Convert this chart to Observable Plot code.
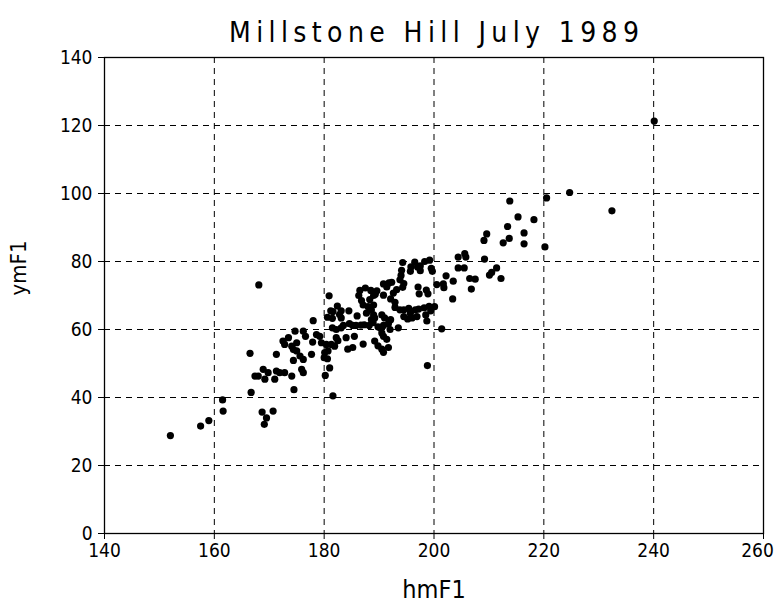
<!DOCTYPE html>
<html>
<head>
<meta charset="utf-8">
<script src="https://cdn.jsdelivr.net/npm/d3@7"></script>
<script src="https://cdn.jsdelivr.net/npm/@observablehq/plot@0.6"></script>
<style>
  html, body { margin: 0; padding: 0; background: #fff; }
  #chart { width: 778px; height: 612px; }
</style>
</head>
<body>
<div id="chart"></div>
<script>
const title = "Millstone Hill July 1989";
const xLabel = "hmF1";
const yLabel = "ymF1";
const xTicks = [140, 160, 180, 200, 220, 240, 260];
const yTicks = [0, 20, 40, 60, 80, 100, 120, 140];
const xGrid = [160, 180, 200, 220, 240];
const yGrid = [20, 40, 60, 80, 100, 120];

// hmF1 (x) and ymF1 (y)
const hmF1 = [
  152, 157.5, 159, 161.5, 161.6, 168.1, 168.7, 169.5, 169.1, 170.7, 166.7, 174.5, 181.6, 166.5,
  167.4, 168, 168.9, 169.2, 169.8, 171, 171.3, 171.9, 172.8, 174.1, 175.9, 176.2, 174.4, 176.2, 175.6, 171.3,
  172.5, 172.8, 173.5, 174.1, 174.4, 175, 175, 174.7, 176.2, 178, 178.6, 179.2, 179.5, 180.4, 181.3, 181.9,
  180.1, 180.7, 181, 180.2, 180.9, 181.2, 181.6, 182.4, 182.8, 177.7, 180, 180.6, 176.6, 177.9,
  183.1, 180.6, 181.5, 184.5, 186, 181.5, 182.2, 183.1, 183.5, 183.1,
  184.6, 185.2, 185.8, 186.7, 187.3, 188.2, 188.9, 189.8, 190.8, 191.7,
  187.7, 189, 189.2, 188.6, 190.5, 191, 192.1, 192, 190.2, 190.5, 190.8, 191.4,
  192.9, 193.8, 194.5, 195.4, 195.7, 196.6, 197.2, 198.2, 199.1, 199.4, 200.1,
  194.5, 195.2, 196, 196.9, 198.7, 198.5, 193.5, 185.5, 184, 185.2, 184.3, 182.2, 182.5, 187.1,
  189.2, 189.8, 190.5, 190.8, 191.7, 198.8,
  194.3, 196.5, 197.5, 198.3, 199.2, 199.5, 195.8, 197, 194.1, 195.7, 197.5, 199.7,
  194, 193.8, 192.3, 191.8, 191.4, 190.8, 189.6, 189.3, 194.5, 194.3, 193.2, 192.6, 190.8, 192.1, 192.9,
  186.5, 187.5, 188.5, 189, 186.3, 186.8, 188.3, 187.1, 188, 189, 188.6,
  197.1, 197.3, 198.6, 198.9,
  200.5, 201.7, 201.8, 202.2, 203.5, 206.5, 207.5, 206.8, 203.4, 204.4, 205.5, 204.4, 205.6, 205.8, 209.2, 201.4,
  240.1, 224.7, 220.5, 232.4, 213.8, 215.3, 218.2, 213.4, 209.6, 216.4, 213.7, 212.6, 216.4, 220.2, 209.1,
  211.4, 210.5, 210.1, 212.2
];
const ymF1 = [
  28.8, 31.6, 33.2, 39.3, 36, 73.1, 35.7, 34, 32.1, 36, 41.5, 42.3, 40.5, 53,
  46.3, 46.3, 48.3, 45.4, 47.3, 45.4, 47.8, 47.3, 47.3, 46.3, 48.3, 47.3, 50.9, 51.2, 52.2, 52.7,
  56.6, 55.6, 57.6, 55.1, 54.1, 53.7, 56.1, 59.5, 59.5, 62.6, 58.5, 58, 56.1, 55.6, 55.6, 55.1,
  53.2, 53.7, 48.7, 46.5, 69.9, 65.5, 65.3, 66.9, 64.4, 52.7, 51.7, 51.4, 58, 56.3,
  65.5, 63.6, 63.3, 65.5, 64, 60.5, 60, 60.5, 61.2, 63.4,
  61.7, 61.2, 61.2, 61.3, 61.4, 61.2, 62, 60.8, 61.2, 61.7,
  64.8, 64.3, 63.4, 62.9, 64.3, 63.4, 62.9, 60, 60.5, 59, 58, 57.1,
  66.5, 65.8, 65.8, 66.2, 64.8, 65.8, 66, 66.4, 66.8, 65.5, 66.7,
  63.8, 63.1, 63.4, 63.8, 62.5, 64.3, 60.5, 58, 57.6, 54.7, 54.2, 57.6, 56.7, 55.7,
  56.6, 55.2, 54.2, 53.3, 54.7, 49.4,
  79.7, 79.8, 78.7, 80, 80.4, 78, 78.4, 78.4, 77.4, 77.1, 77.3, 77.1,
  75.9, 74.6, 73.9, 73.7, 72.5, 73.4, 71.4, 70.4, 73.5, 72.4, 71.7, 70.7, 70.1, 69, 68,
  71.5, 72.2, 71.5, 70, 70, 68.5, 68.8, 67.2, 66.7, 67.2, 65.7,
  72.5, 70.5, 71.6, 70.5,
  73.2, 73.4, 72.3, 75.8, 74.2, 75, 74.8, 71.9, 69, 78.1, 78.1, 81.3, 82.3, 81.3, 80.7, 60.2,
  121.3, 100.3, 98.7, 94.9, 97.8, 93.1, 92.3, 90.3, 88.1, 88.4, 86.8, 85.5, 85.2, 84.3, 86.2,
  78.1, 76.8, 76, 75
];

const points = hmF1.map((x, i) => ({x, y: ymF1[i]}));
const font = "'DejaVu Sans Condensed', 'Liberation Sans Narrow', 'DejaVu Sans', sans-serif";
const lastTick = xTicks[xTicks.length - 1];

const chart = Plot.plot({
  width: 778,
  height: 612,
  marginLeft: 104,
  marginRight: 15,
  marginTop: 57,
  marginBottom: 79,
  style: { fontFamily: font, background: "#fff", color: "#000", overflow: "visible" },
  x: { domain: [140, 260] },
  y: { domain: [0, 140] },
  marks: [
    Plot.gridX(xGrid, { stroke: "#000", strokeOpacity: 1, strokeWidth: 1, strokeDasharray: "6,5" }),
    Plot.gridY(yGrid, { stroke: "#000", strokeOpacity: 1, strokeWidth: 1, strokeDasharray: "6,5" }),
    Plot.frame({ stroke: "#000", strokeWidth: 1.3 }),
    Plot.axisX(xTicks, { tickSize: 6, tickPadding: 4, fontSize: 19, label: null, stroke: "#000",
      tickFormat: d => (d === lastTick ? "" : d) }),
    Plot.text([lastTick], { x: d => d, frameAnchor: "bottom", lineAnchor: "top", dy: 10, dx: -6, fontSize: 19, text: d => String(d) }),
    Plot.axisY(yTicks, { tickSize: 6, tickPadding: 6, fontSize: 19, label: null, stroke: "#000" }),
    Plot.dot(points, { x: "x", y: "y", r: 3.6, fill: "#000", stroke: null }),
    Plot.text([title], { frameAnchor: "top", dy: -35, fontSize: 28, text: d => d }),
    Plot.text([xLabel], { frameAnchor: "bottom", dy: 64, fontSize: 25, text: d => d }),
    Plot.text([yLabel], { frameAnchor: "left", dx: -86, rotate: -90, fontSize: 22, text: d => d })
  ]
});

document.getElementById("chart").appendChild(chart);

// stretch title letter spacing like the original plotter font
d3.select(chart).selectAll("text").each(function () {
  if (this.textContent === title) {
    d3.select(this).attr("textLength", 410).attr("lengthAdjust", "spacing");
  }
});
</script>
</body>
</html>
